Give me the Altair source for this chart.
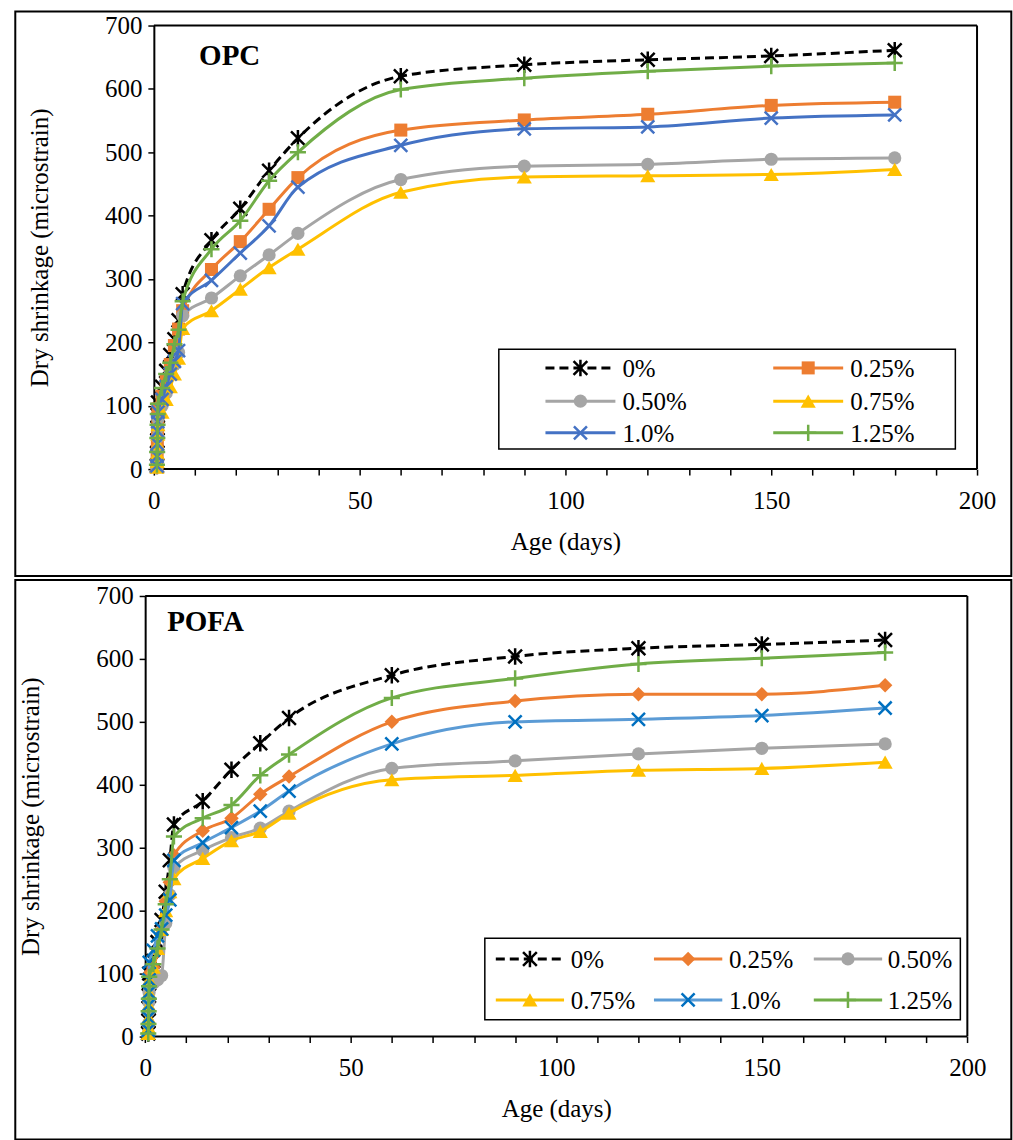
import altair as alt
import pandas as pd

# Test ages (days); the first readings are clustered within the first day
AGES = [0.75, 0.8, 0.85, 0.9, 0.95, 1, 2, 3, 4, 5, 6, 7, 14, 21, 28, 35, 60, 90, 120, 150, 180]
SERIES = ["0%", "0.25%", "0.50%", "0.75%", "1.0%", "1.25%"]

# Dry shrinkage (microstrain) - OPC mixes
OPC_0 = [5, 25, 45, 65, 85, 105, 130, 155, 180, 205, 235, 276, 361, 411, 471, 522, 620, 638, 646, 652, 661]
OPC_025 = [5, 20, 40, 60, 80, 95, 115, 140, 165, 195, 221, 250, 315, 359, 410, 460, 535, 551, 560, 574, 579]
OPC_050 = [3, 15, 30, 50, 65, 80, 100, 120, 150, 165, 184, 242, 270, 305, 338, 372, 457, 478, 481, 489, 491]
OPC_075 = [3, 12, 25, 40, 55, 70, 90, 110, 130, 150, 175, 222, 250, 284, 318, 347, 437, 461, 463, 465, 473]
OPC_100 = [5, 20, 40, 60, 75, 90, 110, 130, 150, 170, 187, 261, 298, 341, 384, 445, 511, 537, 540, 554, 559]
OPC_125 = [7, 27, 49, 70, 87, 103, 128, 150, 168, 197, 220, 265, 347, 392, 455, 500, 599, 617, 628, 636, 641]

# Dry shrinkage (microstrain) - POFA mixes
POFA_0 = [5, 25, 45, 65, 85, 100, 120, 150, 185, 230, 280, 337, 374, 424, 466, 506, 574, 604, 617, 623, 630]
POFA_025 = [5, 20, 40, 60, 80, 100, 110, 135, 170, 215, 245, 288, 327, 347, 385, 413, 500, 533, 544, 544, 558]
POFA_050 = [5, 20, 40, 55, 70, 80, 85, 90, 97, 180, 225, 268, 296, 316, 331, 358, 426, 438, 449, 458, 465]
POFA_075 = [5, 15, 30, 50, 70, 90, 110, 140, 170, 200, 230, 251, 283, 311, 326, 355, 408, 415, 423, 426, 436]
POFA_100 = [10, 30, 50, 70, 90, 118, 137, 160, 171, 193, 217, 280, 308, 332, 358, 390, 465, 500, 504, 510, 522]
POFA_125 = [5, 20, 40, 60, 80, 95, 115, 140, 170, 210, 250, 318, 347, 368, 415, 448, 538, 569, 592, 601, 610]

FONT = "Liberation Serif"
STAR = "M-1,-1L1,1M-1,1L1,-1M0,-1.2L0,1.2"
XMARK = "M-1,-1L1,1M-1,1L1,-1"
PLUS = "M0,-1L0,1M-1,0L1,0"
LW = 2  # axis / frame line width


def style(line, mark, shape, filled, size, dash=None):
    return dict(line=line, mark=mark, shape=shape, filled=filled, size=size, dash=dash)


STYLE_OPC = {
    "0%": style("#000000", "#000000", STAR, False, 190, [9, 5]),
    "0.25%": style("#ED7D31", "#ED7D31", "square", True, 170),
    "0.50%": style("#A5A5A5", "#A5A5A5", "circle", True, 175),
    "0.75%": style("#FFC000", "#FFC000", "triangle-up", True, 230),
    "1.0%": style("#4472C4", "#4472C4", XMARK, False, 170),
    "1.25%": style("#70AD47", "#70AD47", PLUS, False, 260),
}
STYLE_POFA = {
    "0%": style("#000000", "#000000", STAR, False, 190, [9, 5]),
    "0.25%": style("#ED7D31", "#ED7D31", "diamond", True, 210),
    "0.50%": style("#A5A5A5", "#A5A5A5", "circle", True, 175),
    "0.75%": style("#FFC000", "#FFC000", "triangle-up", True, 230),
    "1.0%": style("#5B9BD5", "#0070C0", XMARK, False, 170),
    "1.25%": style("#70AD47", "#70AD47", PLUS, False, 260),
}

ONE = pd.DataFrame({"k": [0]})


def point_mark(data, st):
    if st["filled"]:
        return alt.Chart(data).mark_point(shape=st["shape"], filled=True, color=st["mark"],
                                          opacity=1, size=st["size"], strokeWidth=0)
    return alt.Chart(data).mark_point(shape=st["shape"], filled=False, color=st["mark"],
                                      opacity=1, size=st["size"], strokeWidth=2.5)


def hline(x1, x2, y, **kw):
    return alt.Chart(ONE).mark_rule(**kw).encode(x=alt.value(x1), x2=alt.value(x2), y=alt.value(y))


def vline(x, y1, y2, **kw):
    return alt.Chart(ONE).mark_rule(**kw).encode(x=alt.value(x), y=alt.value(y1), y2=alt.value(y2))


def panel(name, values, styles, x0, pw, ph, border, legend):
    """x0: left edge of the plot area relative to the view origin."""
    x_scale = alt.Scale(domain=[0, 200], nice=False, range=[x0, x0 + pw])
    y_scale = alt.Scale(domain=[0, 700], nice=False)
    x_axis = alt.Axis(title="Age (days)", values=list(range(0, 201, 10)),
                      labelExpr="datum.value % 50 == 0 ? datum.label : ''",
                      labelPadding=13, titlePadding=16, domain=False)
    y_axis = alt.Axis(title="Dry shrinkage (microstrain)", values=list(range(0, 701, 100)),
                      labelPadding=6, titlePadding=52, offset=-x0)

    layers = []
    # panel frame
    bx1, bx2, by1, by2 = border
    layers.append(alt.Chart(ONE).mark_rect(fill="white", fillOpacity=0, stroke="black", strokeWidth=2)
                  .encode(x=alt.value(x0 + bx1), x2=alt.value(x0 + bx2),
                          y=alt.value(by1), y2=alt.value(by2)))
    # plot frame: top, right and bottom edges (left edge is the y axis line)
    layers.append(hline(x0, x0 + pw, 0, color="black", strokeWidth=LW))
    layers.append(hline(x0, x0 + pw, ph, color="black", strokeWidth=LW))
    layers.append(vline(x0 + pw, 0, ph, color="black", strokeWidth=LW))

    for s, vals in zip(SERIES, values):
        st = styles[s]
        df = pd.DataFrame({"age": AGES, "value": vals, "series": s})
        enc = dict(x=alt.X("age:Q", scale=x_scale, axis=x_axis),
                   y=alt.Y("value:Q", scale=y_scale, axis=y_axis))
        line_kw = dict(color=st["line"], strokeWidth=3, interpolate="monotone")
        if st["dash"]:
            line_kw["strokeDash"] = st["dash"]
        layers.append(alt.Chart(df).mark_line(**line_kw).encode(**enc))
        layers.append(point_mark(df, st).encode(**enc))

    # legend
    lg = legend
    layers.append(alt.Chart(ONE).mark_rect(fill="white", stroke="black", strokeWidth=1.5)
                  .encode(x=alt.value(x0 + lg["box"][0]), x2=alt.value(x0 + lg["box"][1]),
                          y=alt.value(lg["box"][2]), y2=alt.value(lg["box"][3])))
    ncol = len(lg["cols"])
    for i, s in enumerate(SERIES):
        st = styles[s]
        row, col = divmod(i, ncol)
        ly = lg["rows"][row]
        lx1, lx2, tx = (x0 + v for v in lg["cols"][col])
        rule_kw = dict(color=st["line"], strokeWidth=3)
        if st["dash"]:
            rule_kw["strokeDash"] = st["dash"]
        layers.append(hline(lx1, lx2, ly, **rule_kw))
        layers.append(point_mark(ONE, st).encode(x=alt.value((lx1 + lx2) / 2), y=alt.value(ly)))
        layers.append(alt.Chart(ONE).mark_text(text=s, font=FONT, fontSize=25, align="left",
                                               baseline="middle", color="black")
                      .encode(x=alt.value(tx), y=alt.value(ly + 1)))

    # panel label
    layers.append(alt.Chart(ONE).mark_text(text=name, font=FONT, fontSize=29, fontWeight="bold",
                                           align="left", baseline="alphabetic", color="black")
                  .encode(x=alt.value(x0 + lg["title"][0]), y=alt.value(lg["title"][1])))

    return alt.layer(*layers).properties(width=x0 + pw, height=ph)


top = panel(
    "OPC",
    [OPC_0, OPC_025, OPC_050, OPC_075, OPC_100, OPC_125],
    STYLE_OPC, 0, 824, 444,
    (-138.7, 858.3, -14, 551),
    dict(box=(345.3, 802.3, 324, 424), rows=[342.7, 376, 407.7],
         cols=[(392, 462, 469), (620, 690, 697)], title=(45.3, 39.3)),
)
bottom = panel(
    "POFA",
    [POFA_0, POFA_025, POFA_050, POFA_075, POFA_100, POFA_125],
    STYLE_POFA, -8.7, 823, 441,
    (-130, 867, -16, 544),
    dict(box=(340, 816, 342.7, 424.3), rows=[363.3, 404.3],
         cols=[(351, 419.3, 426), (509.3, 577.7, 584.3), (669.3, 737.7, 743.3)],
         title=(22, 35.3)),
)

chart = (
    alt.vconcat(top, bottom, spacing=0)
    .properties(padding={"left": 13, "top": 9, "right": 0, "bottom": 0}, background="white")
    .configure_view(stroke="transparent")
    .configure_axis(
        grid=False,
        labelFont=FONT, labelFontSize=25, labelColor="black", labelFlush=False,
        titleFont=FONT, titleFontSize=25, titleFontWeight="normal", titleColor="black",
        domainColor="black", domainWidth=LW, tickColor="black", tickWidth=1.5, tickSize=6,
        labelOverlap=False,
    )
)

chart.save("out.html", embed_options={"renderer": "svg", "actions": False})
